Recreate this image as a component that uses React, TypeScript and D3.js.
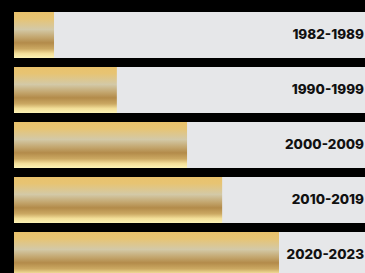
import React from "react";
import * as d3 from "d3";

const categories = ["1982-1989", "1990-1999", "2000-2009", "2010-2019", "2020-2023"];
const values = [11.4, 29.3, 49.3, 59.3, 75.5];
const maxValue = 100;

const W = 365;
const H = 273;

export default function App() {
  const x = d3.scaleLinear().domain([0, maxValue]).range([14, 365]);
  const y = d3
    .scaleBand<string>()
    .domain(categories)
    .range([12, 278])
    .paddingInner(9 / 55)
    .paddingOuter(0);
  const bw = y.bandwidth();
  return (
    <div style={{ position: "fixed", left: 0, top: 0, width: W, height: H, background: "#000" }}>
      <svg width={W} height={H} style={{ display: "block" }}>
        <defs>
          <linearGradient id="gold" x1="0" y1="0" x2="0" y2="1">
            <stop offset="0%" stopColor="#e9c26c" />
            <stop offset="14%" stopColor="#e7c473" />
            <stop offset="38%" stopColor="#d3c9a7" />
            <stop offset="55%" stopColor="#c3a66e" />
            <stop offset="67%" stopColor="#b38b4a" />
            <stop offset="80%" stopColor="#cba862" />
            <stop offset="90%" stopColor="#f2de98" />
            <stop offset="100%" stopColor="#fcf3b6" />
          </linearGradient>
        </defs>
        <rect x={0} y={0} width={W} height={H} fill="#000" />
        {categories.map((c, i) => {
          const yy = y(c) as number;
          return (
            <g key={c}>
              <rect x={x(0)} y={yy} width={x(maxValue) - x(0)} height={bw} fill="#e6e7e9" />
              <rect x={x(0)} y={yy} width={x(values[i]) - x(0)} height={bw} fill="url(#gold)" />
              <text
                x={364}
                y={yy + bw / 2 - 1}
                textAnchor="end"
                dominantBaseline="central"
                fontFamily="Inter, 'Liberation Sans', Arial, sans-serif"
                fontWeight={800}
                fontSize={13.5}
                fill="#111"
              >
                {c}
              </text>
            </g>
          );
        })}
      </svg>
    </div>
  );
}
